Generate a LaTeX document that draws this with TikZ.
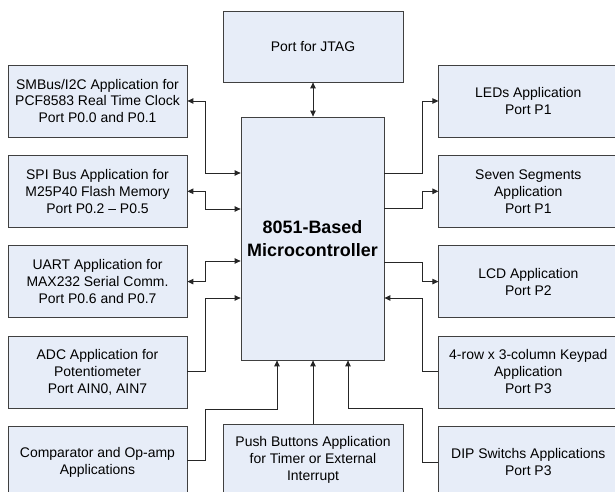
\documentclass[tikz,border=0pt]{standalone}
\usepackage{fontspec}
\setmainfont{Liberation Sans}
\usetikzlibrary{positioning,arrows.meta}
\definecolor{boxblue}{RGB}{231,237,248}

\begin{document}
\begin{tikzpicture}[x=1bp,y=-1bp,node distance=17.5bp,>={Triangle[length=6bp,width=5.5bp]},
  box/.style={draw=black!75, fill=boxblue, line width=0.8bp, minimum width=179bp, minimum height=72bp,
    inner sep=0pt, align=center, font=\fontsize{14}{17}\selectfont},
  link/.style={draw=black!85, line width=0.9bp}]
  \clip (0,0) rectangle (615,492);
  % Controller
  \node[box, minimum width=143bp, minimum height=243bp, font=\fontsize{18}{23}\selectfont\bfseries] (mcu) at (312.5,238.5) {8051-Based\\Microcontroller};
  \node[box, minimum width=180bp, minimum height=71bp] (jtag) at (313,46.5) {Port for JTAG};
  % Left column
  \node[box] (smbus) at (97.5,101) {SMBus/I2C Application for\\PCF8583 Real Time Clock\\Port P0.0 and P0.1};
  \node[box, below=of smbus] (spi) {SPI Bus Application for\\M25P40 Flash Memory\\Port P0.2 -- P0.5};
  \node[box, below=of spi] (uart) {UART Application for\\MAX232 Serial Comm.\\Port P0.6 and P0.7};
  \node[box, below=of uart] (adc) {ADC Application for\\Potentiometer\\Port AIN0, AIN7};
  \node[box, below=of adc] (comp) {Comparator and Op-amp\\Applications};
  % Right column
  \node[box, right=251bp of smbus] (leds) {LEDs Application\\Port P1};
  \node[box, below=of leds] (seven) {Seven Segments\\Application\\Port P1};
  \node[box, below=of seven] (lcd) {LCD Application\\Port P2};
  \node[box, below=of lcd] (keypad) {4-row x 3-column Keypad\\Application\\Port P3};
  \node[box, below=of keypad] (dip) {DIP Switchs Applications\\Port P3};
  % Bottom
  \node[box, minimum width=180bp] (push) at (313,460) {Push Buttons Application\\for Timer or External\\Interrupt};
  % Connections
  \draw[link,<->] (jtag.south) -- (jtag.south |- mcu.north);
  \draw[link,<->] (smbus.east) -- ++(18,0) |- ([yshift=65.5bp]mcu.west);
  \draw[link,<->] (spi.east) -- ++(18,0) |- ([yshift=29.5bp]mcu.west);
  \draw[link,<->] (uart.east) -- ++(18,0) |- ([yshift=-22.5bp]mcu.west);
  \draw[link,->] (adc.east) -- ++(18,0) |- ([yshift=-59.5bp]mcu.west);
  \draw[link,->] ([yshift=1.5bp]comp.east) -- ++(18,0) -- ++(0,-51) -| ([xshift=-35.5bp]mcu.south);
  \draw[link,->] (push.north) -- (push.north |- mcu.south);
  \draw[link,->] (dip.west) -- ++(-16,0) -- ++(0,-54) -| ([xshift=35.5bp]mcu.south);
  \draw[link,->] (keypad.west) -- ++(-16,0) |- ([yshift=-59.5bp]mcu.east);
  \draw[link,->] ([yshift=-23.5bp]mcu.east) -- ++(38,0) |- (lcd.west);
  \draw[link,->] ([yshift=30.5bp]mcu.east) -- ++(38,0) |- (seven.west);
  \draw[link,->] ([yshift=65.5bp]mcu.east) -- ++(38,0) |- (leds.west);
\end{tikzpicture}
\end{document}
